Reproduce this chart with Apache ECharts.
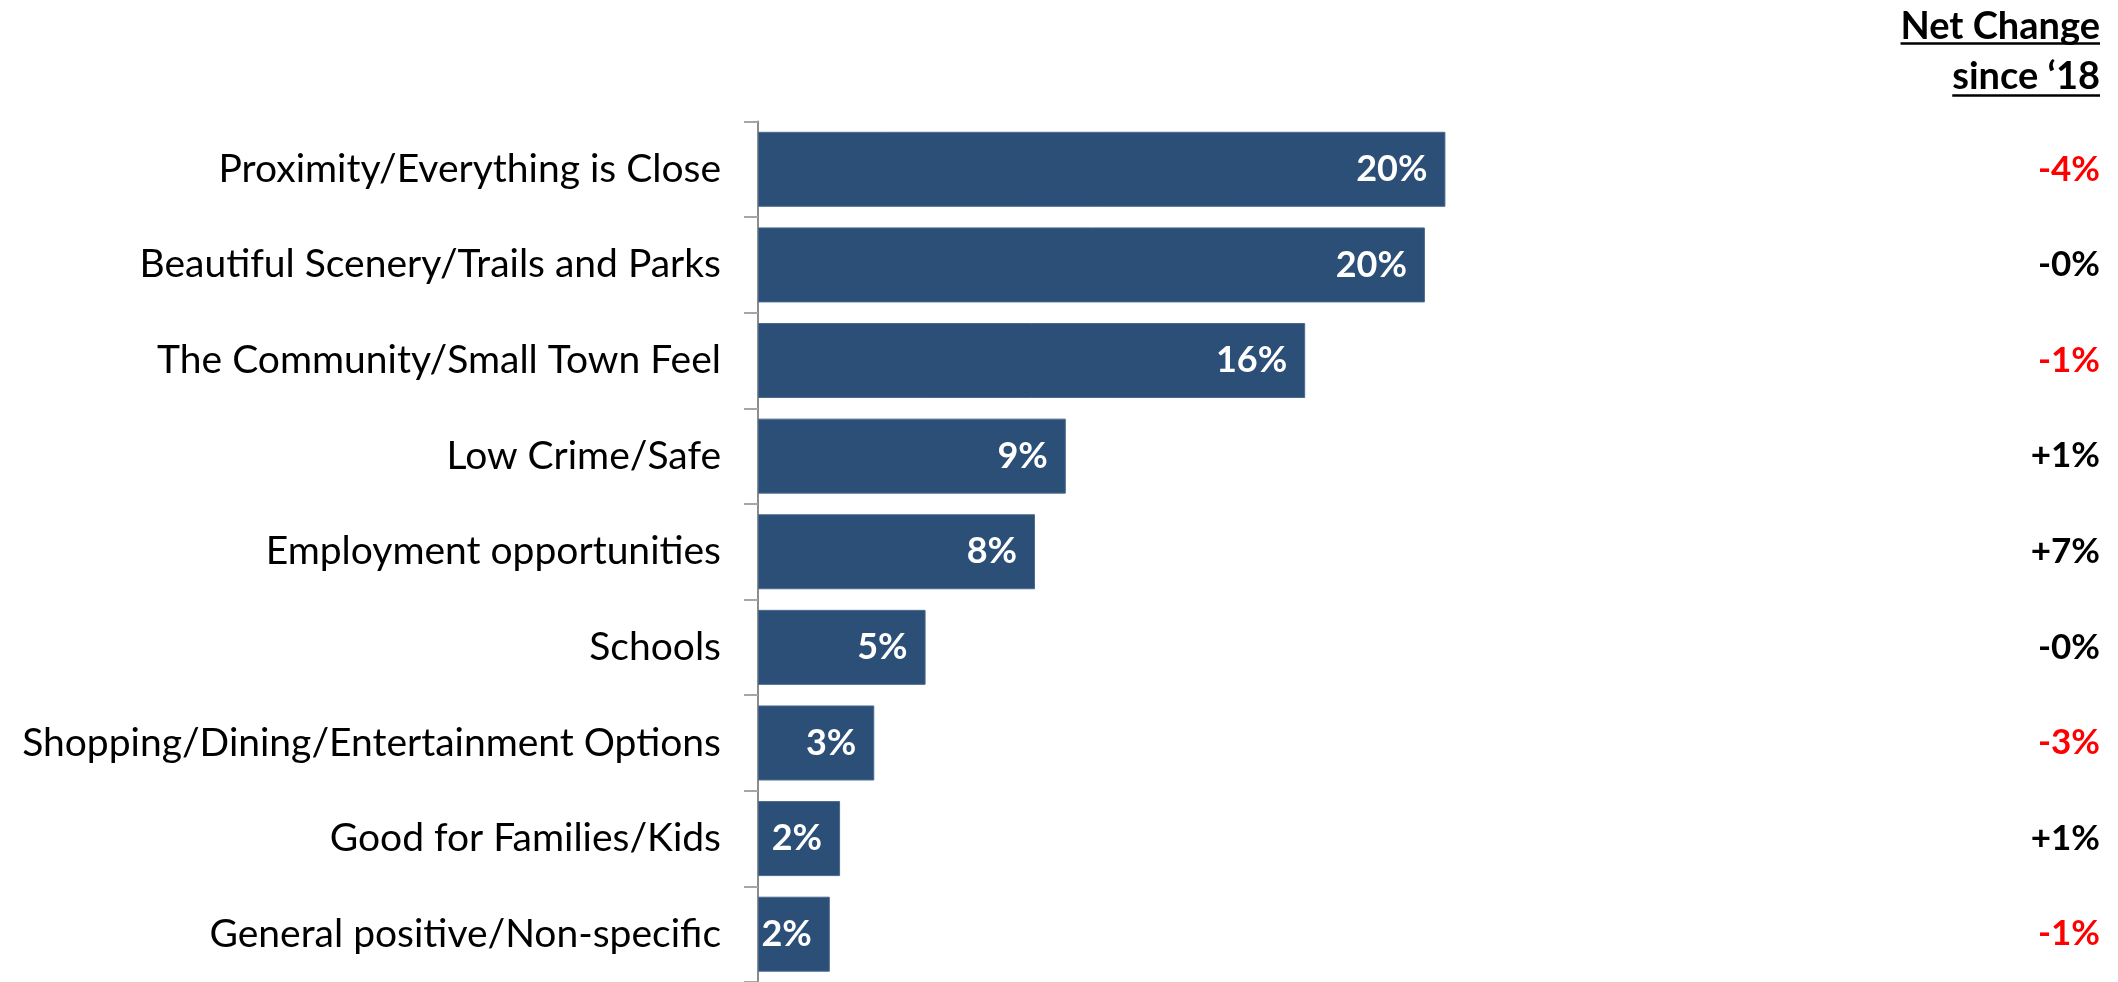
<!DOCTYPE html>
<html><head><meta charset="utf-8">
<script src="https://cdn.jsdelivr.net/npm/echarts@6/dist/echarts.min.js"></script>
<style>html,body{margin:0;padding:0;background:#fff}#c{width:2118px;height:982px}</style>
</head><body><div id="c"></div>
<script>
var categories = [
  'Proximity/Everything is Close',
  'Beautiful Scenery/Trails and Parks',
  'The Community/Small Town Feel',
  'Low Crime/Safe',
  'Employment opportunities',
  'Schools',
  'Shopping/Dining/Entertainment Options',
  'Good for Families/Kids',
  'General positive/Non-specific'
];
var shareValues = [20.1, 19.5, 16.0, 9.0, 8.1, 4.9, 3.4, 2.4, 2.1];
var netChange = ['-4%', '-0%', '-1%', '+1%', '+7%', '-0%', '-3%', '+1%', '-1%'];
var headerLines = ['Net Change', 'since \u201818'];

var FONT = 'Lato';
var chart = echarts.init(document.getElementById('c'), null, {renderer: 'canvas'});

var mc = document.createElement('canvas').getContext('2d');
mc.font = 'bold 38px ' + FONT;
var headerRight = 2100;
var graphics = [];
var textBottoms = [46, 96];
var ulY = [43.5, 95.5];
headerLines.forEach(function (t, i) {
  var w = mc.measureText(t).width;
  graphics.push({
    type: 'text', x: headerRight, y: textBottoms[i],
    style: {text: t, font: 'bold 38px ' + FONT, fill: '#000', textAlign: 'right', textVerticalAlign: 'bottom'}
  });
  graphics.push({
    type: 'line', shape: {x1: headerRight - w, y1: ulY[i], x2: headerRight, y2: ulY[i]},
    style: {stroke: '#000', lineWidth: 2.7}
  });
});

var option = {
  animation: false,
  backgroundColor: '#fff',
  grid: {left: 758, top: 121.5, width: 1026, height: 864, containLabel: false},
  xAxis: {
    type: 'value', min: 0, max: 30, show: false
  },
  yAxis: [{
    type: 'category', data: categories, inverse: true,
    axisLine: {show: true, lineStyle: {color: '#8c8c8c', width: 2}},
    axisTick: {show: true, length: 14, lineStyle: {color: '#a6a6a6', width: 2}},
    axisLabel: {margin: 37, fontFamily: FONT, fontSize: 39, color: '#000'},
    splitLine: {show: false}
  }, {
    type: 'category', data: netChange, inverse: true, position: 'right',
    axisLine: {show: false}, axisTick: {show: false}, splitLine: {show: false},
    axisLabel: {
      margin: 316, align: 'right',
      formatter: function (v) {
        return parseFloat(v) < 0 ? '{neg|' + v + '}' : '{pos|' + v + '}';
      },
      rich: {
        neg: {fontFamily: FONT, fontWeight: 'bold', fontSize: 35, color: '#ff0000'},
        pos: {fontFamily: FONT, fontWeight: 'bold', fontSize: 35, color: '#000000'}
      }
    }
  }],
  series: [{
    type: 'bar', data: shareValues, barWidth: 75, yAxisIndex: 0,
    itemStyle: {color: '#2b4f77', borderColor: '#4a698f', borderWidth: 1},
    label: {
      show: true, position: 'insideRight', distance: 18,
      formatter: function (p) { return Math.round(p.value) + '%'; },
      fontFamily: FONT, fontWeight: 'bold', fontSize: 36, color: '#fff'
    }
  }],
  graphic: graphics
};
chart.setOption(option);
</script></body></html>
